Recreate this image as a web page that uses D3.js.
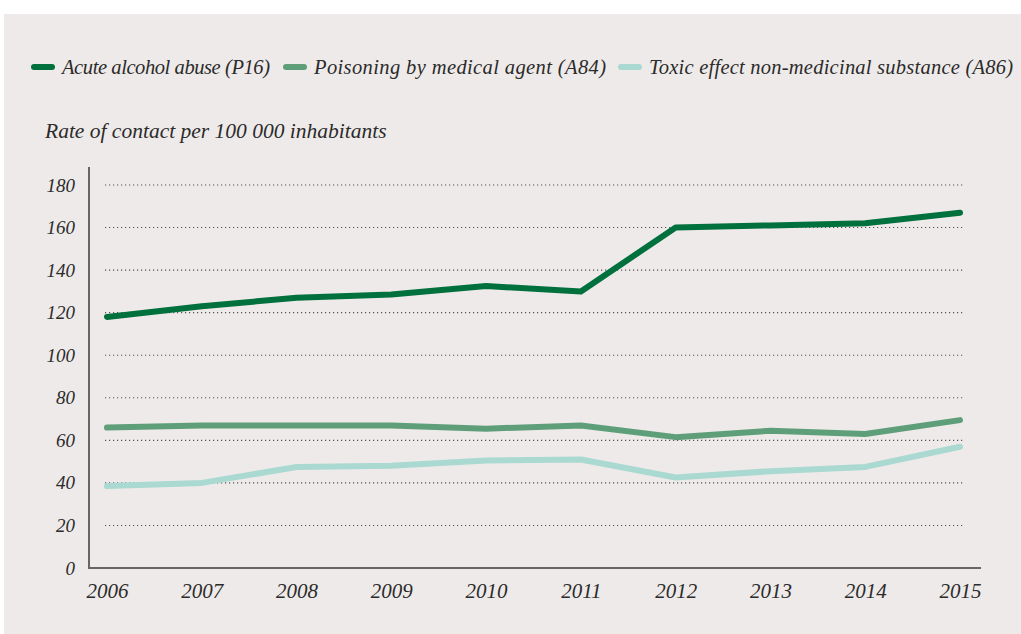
<!DOCTYPE html>
<html>
<head>
<meta charset="utf-8">
<script src="https://cdn.jsdelivr.net/npm/d3@7"></script>
<style>
	html, body { margin: 0; padding: 0; background: #fff; }
	svg { display: block; }
	text { font-family: "Liberation Serif", "DejaVu Serif", serif; font-style: italic; fill: #2b2b2b; }
</style>
</head>
<body>
<div id="chart"></div>
<script>
// years on the x axis
const years = [2006, 2007, 2008, 2009, 2010, 2011, 2012, 2013, 2014, 2015];

// rate of contact per 100 000 inhabitants
const acuteAlcohol = [118, 123, 127, 128.5, 132.5, 130, 160, 161, 162, 167];
const poisoningMedical = [66, 67, 67, 67, 65.5, 67, 61.5, 64.5, 63, 69.5];
const toxicNonMedicinal = [38.5, 40, 47.5, 48, 50.5, 51, 42.5, 45.5, 47.5, 57];

const seriesNames = ["Acute alcohol abuse (P16)", "Poisoning by medical agent (A84)", "Toxic effect non-medicinal substance (A86)"];
const seriesColors = ["#00703c", "#5e9f7a", "#a9d9d1"];
const yTicks = [0, 20, 40, 60, 80, 100, 120, 140, 160, 180];

const width = 1021;
const height = 634;

const svg = d3.select("#chart")
	.append("svg")
	.attr("width", width)
	.attr("height", height);

// grey panel
svg.append("rect")
	.attr("x", 4)
	.attr("y", 14)
	.attr("width", width - 4)
	.attr("height", height - 14)
	.attr("fill", "#eeeae9");

// scales
const xScale = d3.scaleLinear()
	.domain([2006, 2015])
	.range([107, 960]);

const yScale = d3.scaleLinear()
	.domain([0, 180])
	.range([568, 185]);

// dotted grid lines
svg.append("g")
	.selectAll("line")
	.data(yTicks.filter(d => d > 0))
	.enter()
	.append("line")
	.attr("x1", 105)
	.attr("x2", 964)
	.attr("y1", d => yScale(d))
	.attr("y2", d => yScale(d))
	.attr("stroke", "#555")
	.attr("stroke-width", 1.1)
	.attr("stroke-dasharray", "1.2 2.8");

// y axis
const yAxis = d3.axisLeft(yScale)
	.tickValues(yTicks)
	.tickSize(0)
	.tickPadding(14);

const yAxisG = svg.append("g")
	.attr("transform", "translate(89, 0)")
	.call(yAxis);
yAxisG.select(".domain").remove();
yAxisG.selectAll("text")
	.attr("font-size", 19)
	.attr("font-family", null)
	.attr("fill", "#2b2b2b");

svg.append("line")
	.attr("x1", 89).attr("x2", 89)
	.attr("y1", 167).attr("y2", 569)
	.attr("stroke", "#666")
	.attr("stroke-width", 2);

// x axis
const xAxis = d3.axisBottom(xScale)
	.tickValues(years)
	.tickFormat(d3.format("d"))
	.tickSize(0)
	.tickPadding(15);

const xAxisG = svg.append("g")
	.attr("transform", "translate(0, 568)")
	.call(xAxis);
xAxisG.select(".domain").remove();
xAxisG.selectAll("text")
	.attr("font-size", 21)
	.attr("font-family", null)
	.attr("fill", "#2b2b2b");

svg.append("line")
	.attr("x1", 88).attr("x2", 981)
	.attr("y1", 568).attr("y2", 568)
	.attr("stroke", "#666")
	.attr("stroke-width", 2);

// lines
const allSeries = [toxicNonMedicinal, poisoningMedical, acuteAlcohol];
const allColors = [seriesColors[2], seriesColors[1], seriesColors[0]];

const line = d3.line()
	.x((d, i) => xScale(years[i]))
	.y(d => yScale(d));

svg.append("g")
	.selectAll("path")
	.data(allSeries)
	.enter()
	.append("path")
	.attr("d", d => line(d))
	.attr("fill", "none")
	.attr("stroke", (d, i) => allColors[i])
	.attr("stroke-width", 6)
	.attr("stroke-linecap", "round")
	.attr("stroke-linejoin", "round");

// y title
svg.append("text")
	.attr("x", 45)
	.attr("y", 138)
	.attr("font-size", 21.5)
	.text("Rate of contact per 100 000 inhabitants");

// legend, each entry stretched to the width it has in the original
const legend = svg.append("g");
const legendX = [31, 283, 618];
const legendW = [208, 292, 364];
seriesNames.forEach((name, i) => {
	legend.append("line")
		.attr("x1", legendX[i] + 3).attr("x2", legendX[i] + 21)
		.attr("y1", 67).attr("y2", 67)
		.attr("stroke", seriesColors[i])
		.attr("stroke-width", 6)
		.attr("stroke-linecap", "round");
	legend.append("text")
		.attr("x", legendX[i] + 31)
		.attr("y", 74)
		.attr("font-size", 20.5)
		.attr("textLength", legendW[i])
		.attr("lengthAdjust", "spacing")
		.text(name);
});
</script>
</body>
</html>
